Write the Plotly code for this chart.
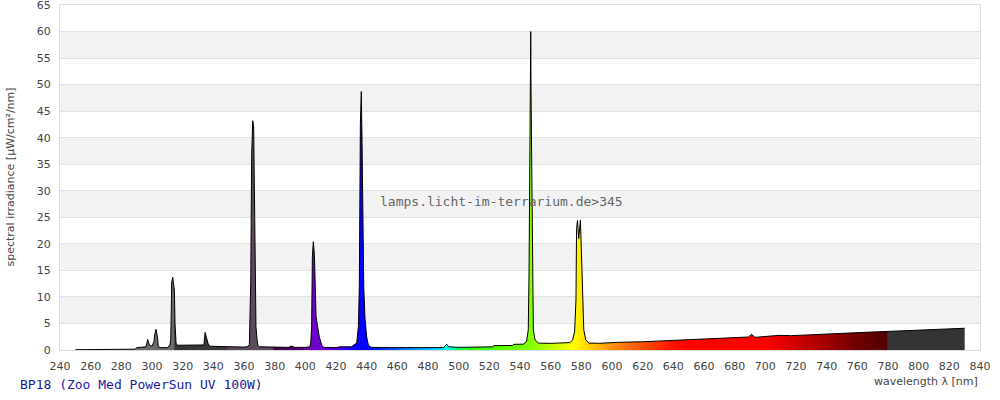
import plotly.graph_objects as go

# ---- data ----
wavelength_nm = [
    250, 265, 280, 289, 290, 295, 296.1, 297.2, 298.3, 300, 301.3, 301.7, 302.6, 303.7, 304.1,
    306, 310, 311.7, 312.2, 312.6, 312.8, 313.5, 314.6, 315, 315.7, 316.5, 320, 330, 333.9,
    334.6, 336.1, 336.7, 338, 345, 350, 355, 360, 362, 363.5, 364.4, 365, 365.7, 366.3, 367,
    367.4, 367.8, 368.5, 369.1, 370, 380, 389, 391, 393, 400, 403, 403.5, 404.1, 404.6, 405.2,
    405.9, 406.3, 407, 408, 409.1, 410.7, 412, 420, 422.6, 430, 433.5, 434.6, 435.2, 435.9,
    436.5, 437, 437.4, 438.1, 438.9, 440, 441.1, 443, 455, 470, 485, 490, 492.2, 493.5, 500,
    510, 522, 523, 535, 536, 542.2, 544.3, 545.4, 545.9, 546.5, 547, 547.2, 547.6, 548, 548.7,
    549.8, 552, 560, 570, 572.6, 574.3, 575.6, 576.5, 576.9, 577.5, 578.3, 579.4, 580, 580.7,
    581.6, 582.9, 585, 592, 604, 620, 636, 651, 667, 682, 689, 691, 693, 694, 709, 717, 733,
    750, 765, 780, 795, 808, 819, 830,
]
irradiance = [
    0.05, 0.1, 0.12, 0.15, 0.45, 0.5, 0.6, 2.0, 0.9, 0.7, 1.6, 2.8, 3.9, 2.2, 0.6,
    0.45, 0.45, 0.9, 1.9, 7.5, 12.6, 13.7, 11.3, 5.0, 1.3, 0.9, 0.9, 0.9, 0.95,
    3.3, 1.9, 1.1, 0.7, 0.65, 0.6, 0.5, 0.55, 0.6, 1.0, 12.9, 36.7, 43.2, 42.0, 25,
    17, 4.4, 2.0, 0.9, 0.6, 0.5, 0.5, 0.75, 0.5, 0.5, 0.6, 1.3, 4.4, 17.6, 20.4,
    18.0, 12.0, 6.3, 4.4, 2.5, 0.9, 0.5, 0.45, 0.6, 0.6, 1.3, 4.4, 11.9, 42.7,
    48.7, 38.9, 21.7, 11.9, 6.0, 2.5, 0.9, 0.5, 0.45, 0.4, 0.45, 0.45, 1.07, 0.6, 0.5,
    0.55, 0.6, 0.82, 0.85, 1.07, 1.1, 1.6, 3.8, 14.7, 55.9, 60.0, 49, 33, 15.1, 3.8,
    1.9, 1.3, 1.25, 1.3, 1.4, 1.9, 3.4, 9.4, 22.9, 24.4, 21.0, 24.5, 17.9, 8.8,
    3.8, 1.9, 1.3, 1.26, 1.45, 1.55, 1.76, 2.0, 2.2, 2.4, 2.45, 2.95, 2.45, 2.4, 2.76, 2.7, 2.95,
    3.14, 3.33, 3.5, 3.7, 3.9, 4.08, 4.1,
]

x_ticks = list(range(240, 841, 20))
y_ticks = list(range(0, 66, 5))

# spectral fill colours (wavelength, colour)
color_nm = [250, 314, 315, 348, 350, 378, 380, 395, 405, 420, 432, 440, 455, 470, 485, 492,
            500, 510, 530, 546, 560, 575, 585, 600, 620, 640, 650, 700, 720, 740, 760, 779, 780, 830]
color_hex = ["#707070", "#6a6a6a", "#333333", "#3a3a3a", "#5a4a5c", "#5a4a5c", "#400040",
             "#500070", "#7000c8", "#5a00e0", "#1000ff", "#0000ff", "#0040ff", "#0090ff",
             "#00d0ff", "#00ffff", "#00ff60", "#30ff00", "#60ff00", "#80ff00", "#c0ff00",
             "#ffff00", "#ffd000", "#ff9000", "#ff5000", "#ff1000", "#ff0000", "#ff0000",
             "#d00000", "#a00000", "#700000", "#500000", "#333333", "#333333"]

lo, hi = color_nm[0], color_nm[-1]
colorscale = [[(w - lo) / (hi - lo), c] for w, c in zip(color_nm, color_hex)]

fig = go.Figure()
fig.add_trace(go.Scatter(
    x=wavelength_nm, y=irradiance, mode="lines",
    line=dict(color="black", width=1),
    fill="tozeroy",
    fillgradient=dict(type="horizontal", colorscale=colorscale, start=lo, stop=hi),
    hoverinfo="skip", showlegend=False,
))

# alternating grey bands
shapes = []
for k in range(1, 13, 2):
    shapes.append(dict(type="rect", xref="paper", yref="y", x0=0, x1=1,
                       y0=y_ticks[k], y1=y_ticks[k + 1], fillcolor="#f2f2f2",
                       line=dict(width=0), layer="below"))

font_main = "DejaVu Sans, Verdana, sans-serif"
fig.update_layout(
    width=1000, height=400,
    margin=dict(l=60, r=20, t=5, b=50, autoexpand=False),
    paper_bgcolor="white", plot_bgcolor="white",
    shapes=shapes,
    hovermode=False,
    xaxis=dict(range=[240, 840], tickvals=x_ticks, showgrid=False, zeroline=False,
               showline=True, linecolor="#dddddd", mirror=True, linewidth=1,
               tickfont=dict(family=font_main, size=11, color="#444444"), ticks="",
               automargin=False, ticklabelstandoff=6, ticklabeloverflow="allow"),
    yaxis=dict(range=[0, 65], tickvals=y_ticks, showgrid=True, gridcolor="#e2e2e2",
               zeroline=False, showline=True, linecolor="#dddddd", mirror=True, linewidth=1,
               tickfont=dict(family=font_main, size=11, color="#444444"), ticks="",
               ticklabelstandoff=6, automargin=False, ticklabeloverflow="allow"),
    annotations=[
        dict(text="spectral irradiance [µW/cm²/nm]", xref="paper", yref="paper", x=0, y=0.5,
             xanchor="center", yanchor="middle", xshift=-50, textangle=-90, showarrow=False,
             font=dict(family=font_main, size=11, color="#444444")),
        dict(text="wavelength λ [nm]", xref="paper", yref="paper", x=1, y=0,
             xanchor="right", yanchor="middle", yshift=-31, showarrow=False,
             font=dict(family=font_main, size=11, color="#444444")),
        dict(text="BP18 (Zoo Med PowerSun UV 100W)", xref="paper", yref="paper", x=0, y=0,
             xanchor="left", yanchor="middle", xshift=-42, yshift=-34, showarrow=False,
             font=dict(family="DejaVu Sans Mono, monospace", size=13, color="#1a1aa0")),
        dict(text="lamps.licht-im-terrarium.de>345", xref="paper", yref="y", x=0.48, y=28,
             xanchor="center", yanchor="middle", showarrow=False,
             font=dict(family="DejaVu Sans Mono, monospace", size=13, color="#666666")),
    ],
)

fig.write_html("out.html", config={"displayModeBar": False},
               post_script="document.body.style.margin='0';")
